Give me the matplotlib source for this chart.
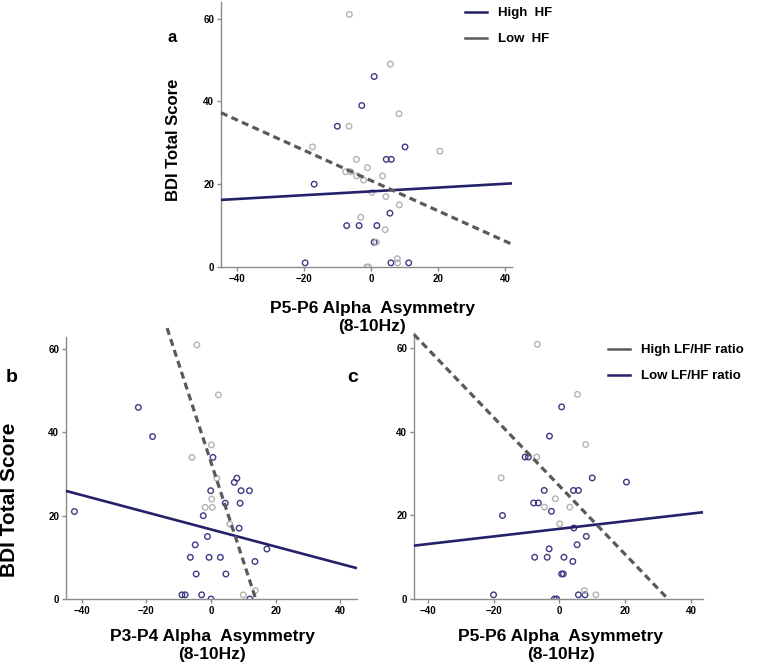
import numpy as np
import matplotlib
matplotlib.use('Agg')
import matplotlib.pyplot as plt
from matplotlib.lines import Line2D

plt.rcParams['font.family'] = ['Liberation Sans', 'DejaVu Sans']
plt.rcParams['font.weight'] = 'bold'

NAVY = '#24216a'
NAVY_PT = '#3d3b82'
GREY_LN = '#5a5a5a'
GREY_PT = '#b3b3b3'
SPINE = '#8c8c8c'

# panel a : P5-P6, HF groups (navy = High HF, grey = Low HF)
a_navy_x = [-19.6, -16.9, -10.0, -2.7, 1.0, -7.2, -3.5, 1.8, 1.0, 5.7, 4.6, 6.1, 10.2, 6.0, 11.3]
a_navy_y = [1, 20, 34, 39, 46, 10, 10, 10, 6, 13, 26, 26, 29, 1, 1]
a_grey_x = [-6.4, 5.8, 8.4, -6.5, -17.4, 20.6, -4.3, -1.0, 3.5, -7.5, -6.0, -4.2,
            -2.2, 0.3, 4.5, 8.5, -3.0, 4.3, 1.6, 7.9, 8.0, -1.2, -0.7]
a_grey_y = [61, 49, 37, 34, 29, 28, 26, 24, 22, 23, 23, 22, 21, 18, 17, 15, 12, 9, 6, 2, 1, 0, 0]

# panel b : P3-P4
b_navy_x = [-22.5, -18.1, -42.3, -2.4, -1.1, -4.9, -6.4, -0.6, 2.9, -4.6, 4.6, -9.0, -8.0,
            -2.9, 0.0, 0.6, 8.0, 7.2, -0.1, 9.3, 11.9, 4.4, 9.0, 8.7, 17.3, 13.6, 12.0]
b_navy_y = [46, 39, 21, 20, 15, 13, 10, 10, 10, 6, 6, 1, 1, 1, 0, 34, 29, 28, 26, 26, 26,
            23, 23, 17, 12, 9, 0]
b_grey_x = [-4.4, 2.3, 0.1, -5.9, 1.8, 0.2, -1.8, 0.4, 5.8, 10.0, 13.7]
b_grey_y = [61, 49, 37, 34, 29, 24, 22, 22, 18, 1, 2]

# panel c : P5-P6, LF/HF ratio groups (grey = High, navy = Low)
c_navy_x = [-20.0, -17.3, -10.4, -9.4, -3.0, 0.7, 10.0, 20.4, -4.6, 4.3, 5.8, -7.8, -6.4, -2.4,
            4.4, 8.2, 5.4, -3.1, -7.5, -3.7, 1.4, 4.1, 0.7, 1.2, -1.5, -0.8, 5.8, 7.8]
c_navy_y = [1, 20, 34, 34, 39, 46, 29, 28, 26, 26, 26, 23, 23, 21, 17, 15, 13, 12, 10, 10, 10,
            9, 6, 6, 0, 0, 1, 1]
c_grey_x = [-6.7, 5.5, 8.0, -6.9, -17.7, -1.2, -4.5, 3.2, 0.1, 7.6, 11.1]
c_grey_y = [61, 49, 37, 34, 29, 24, 22, 22, 18, 2, 1]

# fit lines: (slope, intercept, x start, x end)
a_navy_fit = (0.046, 18.26, -44.7, 42.1)
a_grey_fit = (-0.366, 20.9, -44.7, 42.0)
b_navy_fit = (-0.206, 16.7, -44.9, 45.2)
b_grey_fit = (-2.37, 32.8, -13.6, 13.8)
c_navy_fit = (0.091, 16.8, -44.2, 43.7)
c_grey_fit = (-0.82, 27.1, -44.2, 33.0)

yticks = [0, 20, 40, 60]
xticks = [-40, -20, 0, 20, 40]

fig = plt.figure(figsize=(7.57, 6.68), dpi=100)


def panel(rect, xlim, ylim, navy, grey, nfit, gfit):
    ax = fig.add_axes(rect)
    ax.scatter(navy[0], navy[1], s=16, facecolors='none', edgecolors=NAVY_PT, linewidths=1.0, zorder=2)
    ax.scatter(grey[0], grey[1], s=16, facecolors='none', edgecolors=GREY_PT, linewidths=1.0, zorder=2)
    for (m, b, x0, x1), col, ls in [(nfit, NAVY, '-'), (gfit, GREY_LN, '--')]:
        xx = np.array([x0, x1])
        ln, = ax.plot(xx, m * xx + b, color=col, lw=1.9 if ls == '-' else 2.3, zorder=3,
                      clip_on=False, solid_capstyle='butt')
        if ls == '--':
            ln.set_dashes((2.2, 1.4))
    ax.set_xlim(*xlim)
    ax.set_ylim(*ylim)
    ax.set_xticks(xticks)
    ax.set_yticks(yticks)
    for s in ['top', 'right']:
        ax.spines[s].set_visible(False)
    for s in ['left', 'bottom']:
        ax.spines[s].set_color(SPINE)
        ax.spines[s].set_linewidth(1.0)
    ax.tick_params(direction='out', length=3, width=1, color=SPINE, labelsize=7, pad=2)
    for t in ax.get_xticklabels() + ax.get_yticklabels():
        t.set_fontweight('bold')
    return ax


ax_a = panel([0.2919, 0.6003, 0.3844, 0.3967], (-44.7, 42.1), (0, 64),
             (a_navy_x, a_navy_y), (a_grey_x, a_grey_y), a_navy_fit, a_grey_fit)
ax_b = panel([0.0872, 0.1033, 0.3844, 0.3922], (-44.9, 45.2), (0, 62.9),
             (b_navy_x, b_navy_y), (b_grey_x, b_grey_y), b_navy_fit, b_grey_fit)
ax_c = panel([0.5469, 0.1033, 0.3818, 0.3982], (-44.2, 43.7), (0, 63.7),
             (c_navy_x, c_navy_y), (c_grey_x, c_grey_y), c_navy_fit, c_grey_fit)

# axis titles
fig.text(173 / 757, 1 - 140 / 668, 'BDI Total Score', rotation=90, ha='center', va='center',
         fontsize=12, fontweight='bold')
fig.text(10 / 757, 1 - 500 / 668, 'BDI Total Score', rotation=90, ha='center', va='center',
         fontsize=15, fontweight='bold')
fig.text(372 / 757, 1 - 317 / 668, 'P5-P6 Alpha  Asymmetry\n(8-10Hz)', ha='center', va='center',
         fontsize=12.5, fontweight='bold', linespacing=1.25)
fig.text(212 / 757, 1 - 645 / 668, 'P3-P4 Alpha  Asymmetry\n(8-10Hz)', ha='center', va='center',
         fontsize=12.5, fontweight='bold', linespacing=1.25)
fig.text(561 / 757, 1 - 645 / 668, 'P5-P6 Alpha  Asymmetry\n(8-10Hz)', ha='center', va='center',
         fontsize=12.5, fontweight='bold', linespacing=1.25)

# panel letters
fig.text(172 / 757, 1 - 37 / 668, 'a', ha='center', va='center', fontsize=12, fontweight='bold')
fig.text(12 / 757, 1 - 377 / 668, 'b', ha='center', va='center', fontsize=14, fontweight='bold')
fig.text(353 / 757, 1 - 377 / 668, 'c', ha='center', va='center', fontsize=14, fontweight='bold')

# legends
h_navy = Line2D([], [], color=NAVY, lw=1.8)
h_grey = Line2D([], [], color=GREY_LN, lw=1.8)
leg_kw = dict(frameon=False, handlelength=1.7, handletextpad=0.8, labelspacing=1.05,
              borderpad=0, borderaxespad=0, prop={'size': 9.5, 'weight': 'bold'},
              loc='upper left', bbox_transform=fig.transFigure)
ax_a.legend([h_navy, h_grey], ['High  HF', 'Low  HF'],
            bbox_to_anchor=(465 / 757, 1 - 7 / 668), **leg_kw)
ax_c.legend([h_grey, h_navy], ['High LF/HF ratio', 'Low LF/HF ratio'],
            bbox_to_anchor=(608 / 757, 1 - 344 / 668), **leg_kw)

fig.savefig('out.png', dpi=100)
